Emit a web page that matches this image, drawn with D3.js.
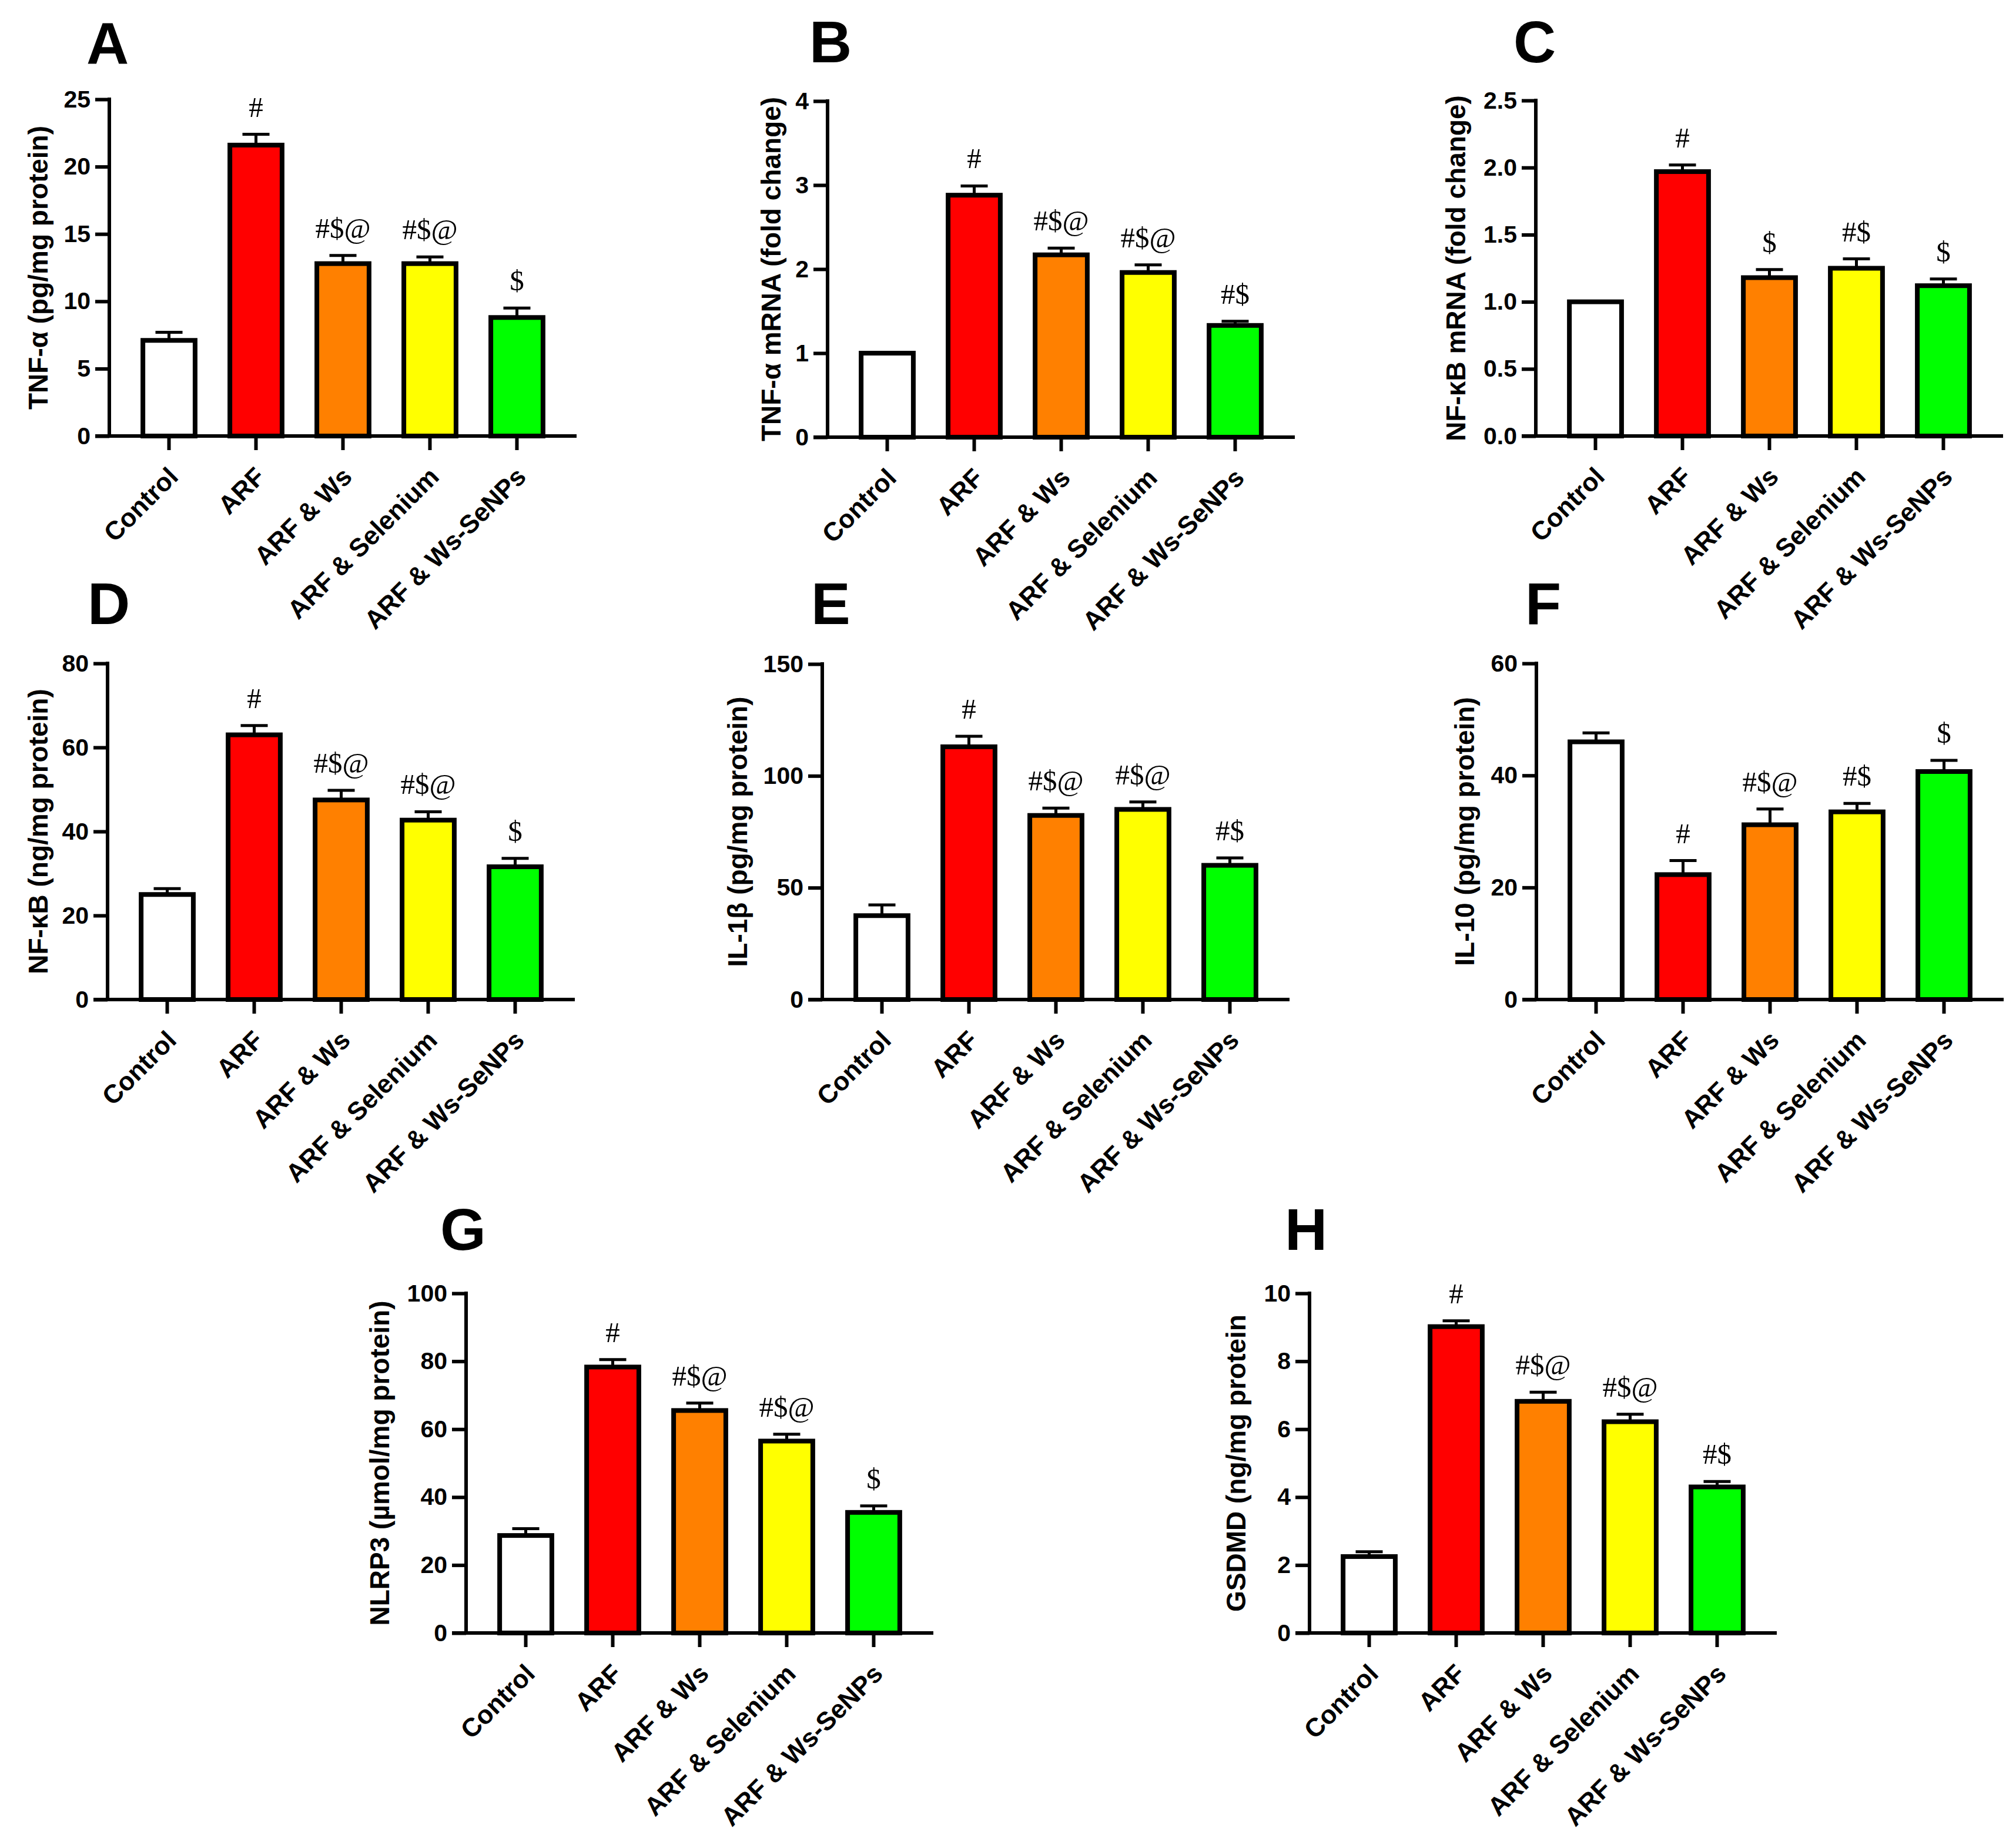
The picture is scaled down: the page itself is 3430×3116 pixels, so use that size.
<!DOCTYPE html>
<html>
<head>
<meta charset="utf-8">
<script src="https://cdn.jsdelivr.net/npm/d3@7"></script>
<style>
  html, body { margin: 0; padding: 0; background: #fff; }
</style>
</head>
<body>
<svg id="chart"></svg>
<script>
const WIDTH = 3430;
const HEIGHT = 3116;

const groups = ['Control', 'ARF', 'ARF & Ws', 'ARF & Selenium', 'ARF & Ws-SeNPs'];
const groupColors = ['#ffffff', '#ff0000', '#ff8000', '#ffff00', '#00ff00'];

// A - TNF-a protein
const tnfProtein = [7.1, 21.6, 12.8, 12.8, 8.8];
const tnfProteinSem = [0.6, 0.8, 0.6, 0.5, 0.7];
const tnfProteinSig = ['', '#', '#$@', '#$@', '$'];
const tnfProteinTicks = [0, 5, 10, 15, 20, 25];

// B - TNF-a mRNA
const tnfMrna = [1.0, 2.88, 2.17, 1.96, 1.33];
const tnfMrnaSem = [0, 0.11, 0.08, 0.09, 0.05];
const tnfMrnaSig = ['', '#', '#$@', '#$@', '#$'];
const tnfMrnaTicks = [0, 1, 2, 3, 4];

// C - NF-kB mRNA
const nfkbMrna = [1.0, 1.97, 1.18, 1.25, 1.12];
const nfkbMrnaSem = [0, 0.05, 0.06, 0.07, 0.05];
const nfkbMrnaSig = ['', '#', '$', '#$', '$'];
const nfkbMrnaTicks = [0, 0.5, 1.0, 1.5, 2.0, 2.5];

// D - NF-kB protein
const nfkbProtein = [25, 63, 47.5, 42.7, 31.6];
const nfkbProteinSem = [1.4, 2.2, 2.3, 2.0, 2.0];
const nfkbProteinSig = ['', '#', '#$@', '#$@', '$'];
const nfkbProteinTicks = [0, 20, 40, 60, 80];

// E - IL-1b
const il1b = [37.5, 113, 82.3, 85, 60];
const il1bSem = [4.8, 4.7, 3.3, 3.3, 3.3];
const il1bSig = ['', '#', '#$@', '#$@', '#$'];
const il1bTicks = [0, 50, 100, 150];

// F - IL-10
const il10 = [46, 22.3, 31.2, 33.5, 40.7];
const il10Sem = [1.6, 2.5, 2.8, 1.5, 2.0];
const il10Sig = ['', '#', '#$@', '#$', '$'];
const il10Ticks = [0, 20, 40, 60];

// G - NLRP3
const nlrp3 = [28.7, 78.3, 65.5, 56.5, 35.5];
const nlrp3Sem = [2.0, 2.2, 2.2, 2.0, 1.9];
const nlrp3Sig = ['', '#', '#$@', '#$@', '$'];
const nlrp3Ticks = [0, 20, 40, 60, 80, 100];

// H - GSDMD
const gsdmd = [2.25, 9.02, 6.82, 6.22, 4.3];
const gsdmdSem = [0.14, 0.17, 0.27, 0.22, 0.16];
const gsdmdSig = ['', '#', '#$@', '#$@', '#$'];
const gsdmdTicks = [0, 2, 4, 6, 8, 10];

const SANS = 'Arial, "Liberation Sans", sans-serif';
const SERIF = '"Times New Roman", "Liberation Serif", serif';
const PLOT_W = 795;
const AXIS_W = 6;
const BAR_STROKE = 8;

// panel placement: y axis x, top / zero of y axis, letter and y label positions
const panels = [
  { letter: 'A', title: 'TNF-α (pg/mg protein)', values: tnfProtein, sem: tnfProteinSem, sig: tnfProteinSig, ticks: tnfProteinTicks, fmt: d3.format('d'),
    x: 186, top: 169, zero: 742, letterX: 147, letterY: 109, labelX: 65 },
  { letter: 'B', title: 'TNF-α mRNA (fold change)', values: tnfMrna, sem: tnfMrnaSem, sig: tnfMrnaSig, ticks: tnfMrnaTicks, fmt: d3.format('d'),
    x: 1408, top: 172, zero: 744, letterX: 1377, letterY: 106, labelX: 1312 },
  { letter: 'C', title: 'NF-κB mRNA (fold change)', values: nfkbMrna, sem: nfkbMrnaSem, sig: nfkbMrnaSig, ticks: nfkbMrnaTicks, fmt: d3.format('.1f'),
    x: 2613, top: 171, zero: 742, letterX: 2575, letterY: 106, labelX: 2477 },
  { letter: 'D', title: 'NF-κB (ng/mg protein)', values: nfkbProtein, sem: nfkbProteinSem, sig: nfkbProteinSig, ticks: nfkbProteinTicks, fmt: d3.format('d'),
    x: 183, top: 1129, zero: 1701, letterX: 149, letterY: 1062, labelX: 65 },
  { letter: 'E', title: 'IL-1β (pg/mg protein)', values: il1b, sem: il1bSem, sig: il1bSig, ticks: il1bTicks, fmt: d3.format('d'),
    x: 1399, top: 1130, zero: 1701, letterX: 1380, letterY: 1062, labelX: 1255 },
  { letter: 'F', title: 'IL-10 (pg/mg protein)', values: il10, sem: il10Sem, sig: il10Sig, ticks: il10Ticks, fmt: d3.format('d'),
    x: 2614, top: 1129, zero: 1701, letterX: 2595, letterY: 1062, labelX: 2492 },
  { letter: 'G', title: 'NLRP3 (µmol/mg protein)', values: nlrp3, sem: nlrp3Sem, sig: nlrp3Sig, ticks: nlrp3Ticks, fmt: d3.format('d'),
    x: 793, top: 2201, zero: 2779, letterX: 749, letterY: 2127, labelX: 646 },
  { letter: 'H', title: 'GSDMD (ng/mg protein', values: gsdmd, sem: gsdmdSem, sig: gsdmdSig, ticks: gsdmdTicks, fmt: d3.format('d'),
    x: 2228, top: 2201, zero: 2779, letterX: 2186, letterY: 2127, labelX: 2103 }
];

const svg = d3.select('#chart')
  .attr('width', WIDTH)
  .attr('height', HEIGHT)
  .attr('viewBox', [0, 0, WIDTH, HEIGHT]);

svg.append('rect')
  .attr('width', WIDTH)
  .attr('height', HEIGHT)
  .attr('fill', '#fff');

panels.forEach(p => {
  const g = svg.append('g');
  const ticks = p.ticks;

  const x = d3.scaleBand()
    .domain(groups)
    .range([p.x, p.x + PLOT_W])
    .paddingInner(0.4)
    .paddingOuter(0.386);

  const y = d3.scaleLinear()
    .domain([0, d3.max(ticks)])
    .range([p.zero, p.top]);

  /* bars */
  g.selectAll('rect.bar')
    .data(p.values)
    .join('rect')
    .attr('class', 'bar')
    .attr('x', (d, i) => x(groups[i]))
    .attr('width', x.bandwidth())
    .attr('y', d => y(d))
    .attr('height', d => y(0) - y(d))
    .attr('fill', (d, i) => groupColors[i])
    .attr('stroke', '#000')
    .attr('stroke-width', BAR_STROKE);

  /* error bars (upper only) */
  p.values.forEach((v, i) => {
    const s = p.sem[i];
    if (!s) return;
    const cx = x(groups[i]) + x.bandwidth() / 2;
    g.append('line')
      .attr('x1', cx).attr('x2', cx)
      .attr('y1', y(v)).attr('y2', y(v + s))
      .attr('stroke', '#000').attr('stroke-width', 5);
    g.append('line')
      .attr('x1', cx - 23).attr('x2', cx + 23)
      .attr('y1', y(v + s)).attr('y2', y(v + s))
      .attr('stroke', '#000').attr('stroke-width', 5);
  });

  /* significance marks */
  g.selectAll('text.sig')
    .data(p.sig)
    .join('text')
    .attr('class', 'sig')
    .attr('x', (d, i) => x(groups[i]) + x.bandwidth() / 2)
    .attr('y', (d, i) => y(p.values[i] + p.sem[i]) - 30)
    .attr('text-anchor', 'middle')
    .attr('font-family', SERIF)
    .attr('font-size', 49)
    .attr('fill', '#000')
    .text(d => d);

  /* Y axis */
  const yAxis = g.append('g')
    .attr('transform', 'translate(' + p.x + ',0)')
    .call(d3.axisLeft(y).tickValues(ticks).tickFormat(p.fmt).tickSize(24).tickPadding(8));
  yAxis.select('.domain').remove();
  yAxis.selectAll('.tick line').attr('stroke', '#000').attr('stroke-width', AXIS_W);
  yAxis.selectAll('.tick text')
    .attr('font-family', SANS)
    .attr('font-weight', 'bold')
    .attr('font-size', 41)
    .attr('fill', '#000');
  g.append('line')
    .attr('x1', p.x).attr('x2', p.x)
    .attr('y1', p.zero).attr('y2', p.top - AXIS_W / 2)
    .attr('stroke', '#000').attr('stroke-width', AXIS_W);

  /* X axis */
  const xAxis = g.append('g')
    .attr('transform', 'translate(0,' + p.zero + ')')
    .call(d3.axisBottom(x).tickSize(24).tickFormat(''));
  xAxis.select('.domain').remove();
  xAxis.selectAll('.tick line').attr('stroke', '#000').attr('stroke-width', AXIS_W);
  g.append('line')
    .attr('x1', p.x - 24).attr('x2', p.x + PLOT_W)
    .attr('y1', p.zero).attr('y2', p.zero)
    .attr('stroke', '#000').attr('stroke-width', AXIS_W);

  g.selectAll('text.cat')
    .data(groups)
    .join('text')
    .attr('class', 'cat')
    .attr('transform', d => 'translate(' + (x(d) + x.bandwidth() / 2 + 18) + ',' + (p.zero + 72) + ') rotate(-45)')
    .attr('text-anchor', 'end')
    .attr('font-family', SANS)
    .attr('font-weight', 'bold')
    .attr('font-size', 44)
    .attr('fill', '#000')
    .text(d => d);

  /* Y label */
  g.append('text')
    .attr('transform', 'translate(' + p.labelX + ',' + (p.top + p.zero) / 2 + ') rotate(-90)')
    .attr('text-anchor', 'middle')
    .attr('dy', '0.35em')
    .attr('font-family', SANS)
    .attr('font-weight', 'bold')
    .attr('font-size', 46)
    .attr('fill', '#000')
    .text(p.title);

  /* panel letter */
  g.append('text')
    .attr('x', p.letterX)
    .attr('y', p.letterY)
    .attr('font-family', SANS)
    .attr('font-weight', 'bold')
    .attr('font-size', 100)
    .attr('fill', '#000')
    .text(p.letter);
});
</script>
</body>
</html>
